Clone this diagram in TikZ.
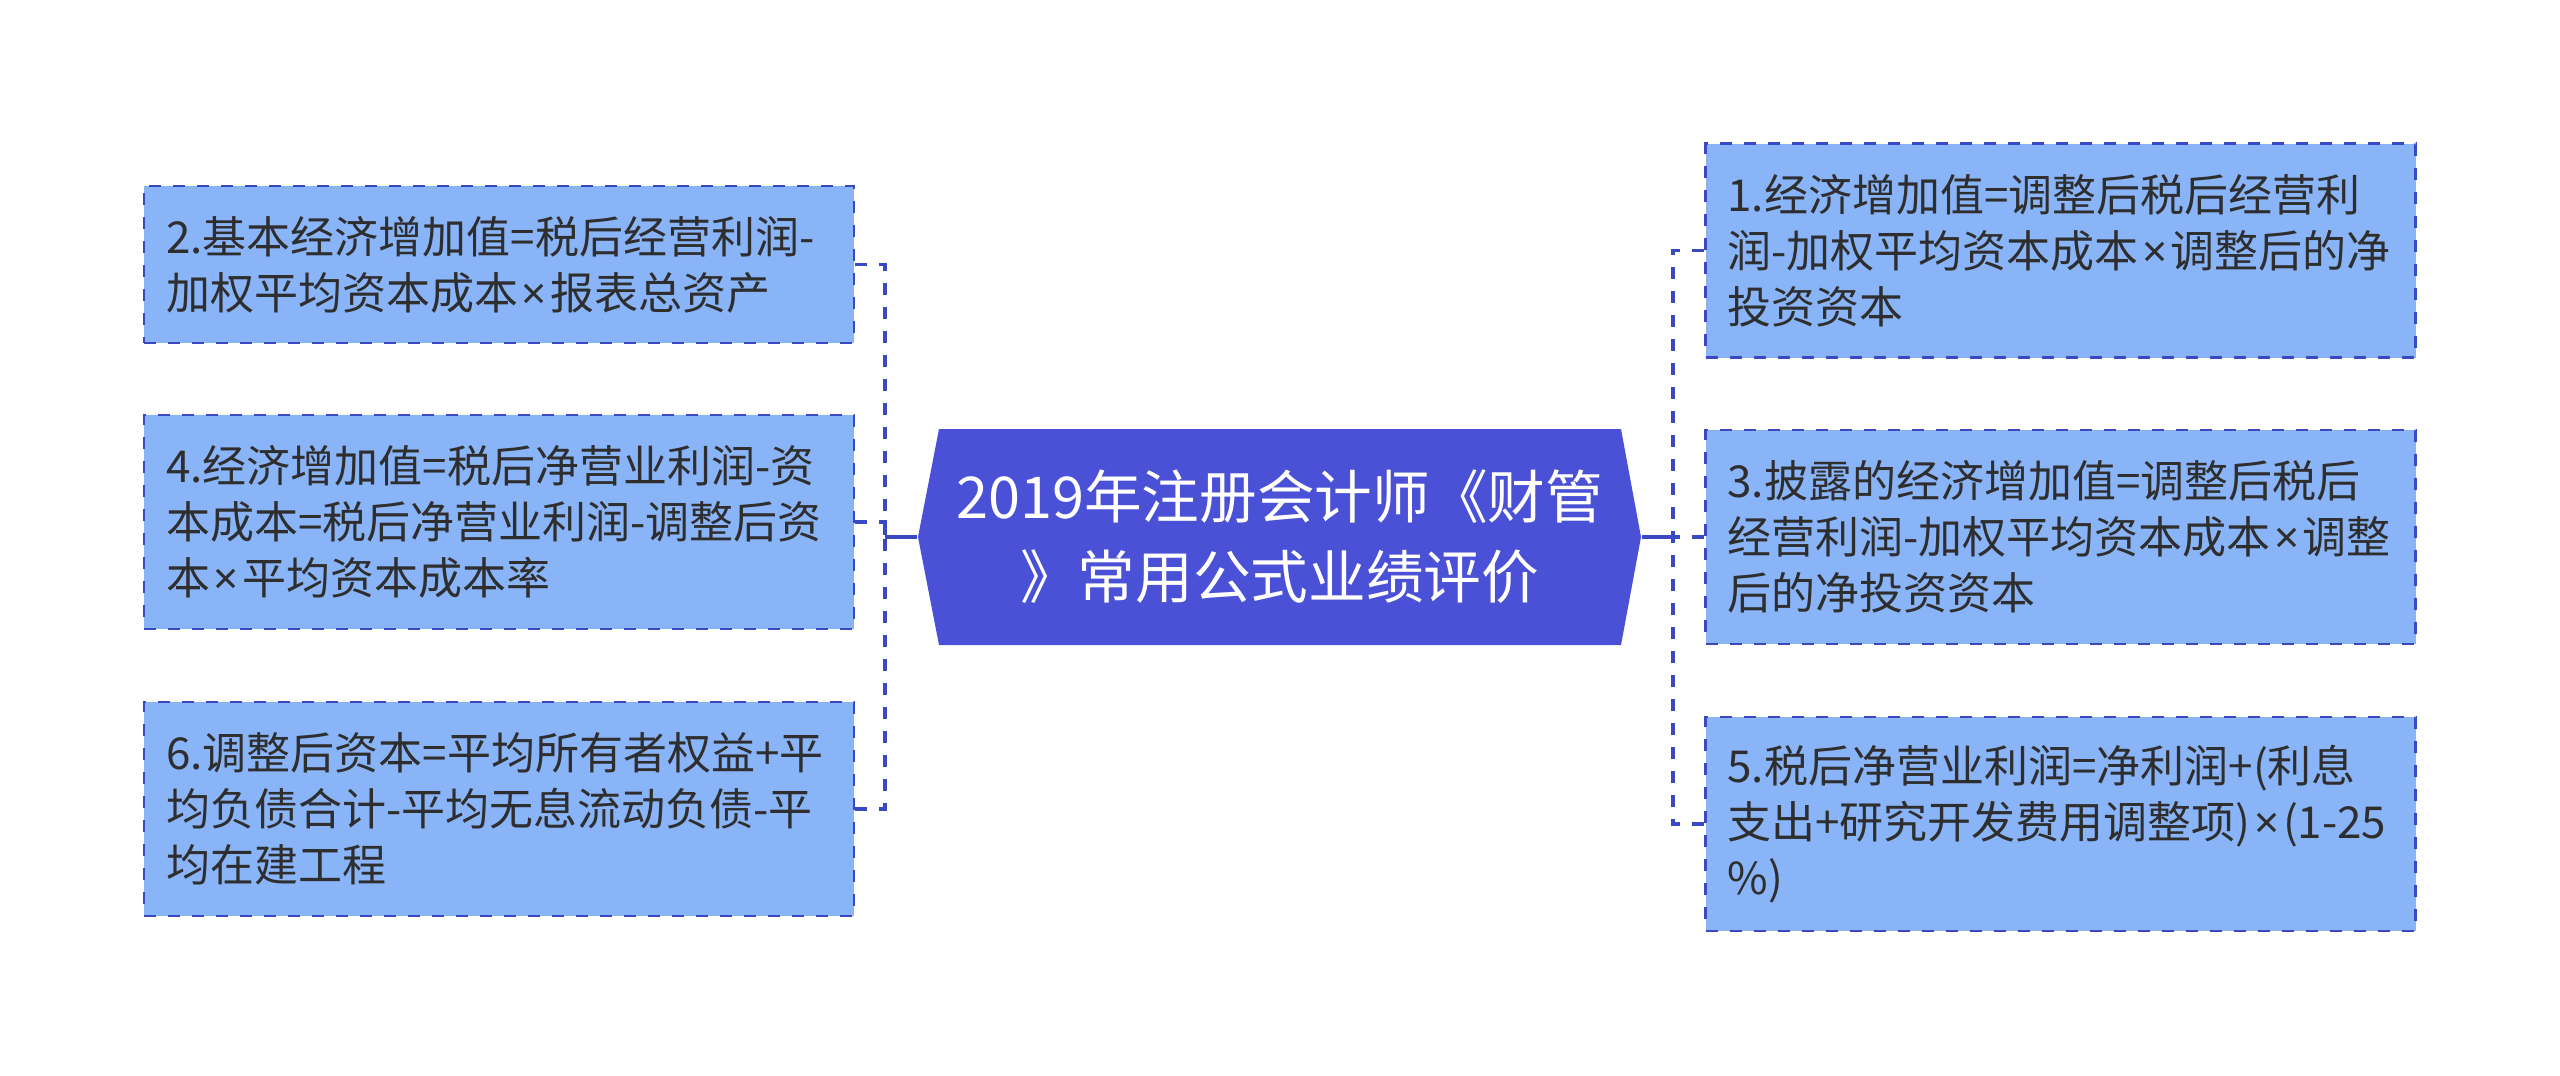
\documentclass[tikz,border=0pt]{standalone}
\usepackage{fontspec}
\setmainfont{Noto Sans CJK SC}
\newfontfamily\latinfont{Noto Sans}
\newcommand\tms{{\latinfont\kern0.08em×\kern0.08em}}
\exhyphenpenalty=10000 \hyphenpenalty=10000
\definecolor{hexblue}{HTML}{4A51D6}
\definecolor{boxblue}{HTML}{8AB4F8}
\definecolor{linkblue}{HTML}{3A48C4}
\definecolor{txtgray}{HTML}{2E2E2E}

\begin{document}
\begin{tikzpicture}[x=0.3pt,y=-0.3pt,
      leaf/.style={draw=linkblue,fill=boxblue,line width=0.7pt,dash pattern=on 3.6pt off 3.6pt,
        text=txtgray,text width=199.8pt,inner xsep=6.6pt,inner ysep=0pt,align=left,
        font=\fontsize{13.2}{16.8}\selectfont},
      link/.style={linkblue,line width=1.1pt,dash pattern=on 3.6pt off 3.6pt}]
  \useasboundingbox(0,0)rectangle(2560,1075);
  \fill[hexblue](918,537)--(939,429)--(1621,429)--(1641,537)--(1621,645)--(939,645)--cycle;
  \node[text=white,align=center,minimum width=216.9pt,minimum height=64.8pt,inner sep=0pt,
    font=\fontsize{17.3}{24}\selectfont](root)at(1279.5,537){2019年注册会计师《财管\\》常用公式业绩评价};
  \node[leaf,minimum height=47.1pt](b2)at(499,264.5){2.基本经济增加值=税后经营利润-\\加权平均资本成本\tms 报表总资产};
  \node[leaf,minimum height=64.2pt](b4)at(499,522){4.经济增加值=税后净营业利润-资\\本成本=税后净营业利润-调整后资\\本\tms 平均资本成本率};
  \node[leaf,minimum height=64.2pt](b6)at(499,809){6.调整后资本=平均所有者权益+平\\均负债合计-平均无息流动负债-平\\均在建工程};
  \node[leaf,minimum height=64.2pt](b1)at(2060.5,250.5){1.经济增加值=调整后税后经营利\\润-加权平均资本成本\tms 调整后的净\\投资资本};
  \node[leaf,minimum height=64.2pt](b3)at(2060.5,537){3.披露的经济增加值=调整后税后\\经营利润-加权平均资本成本\tms 调整\\后的净投资资本};
  \node[leaf,minimum height=64.2pt](b5)at(2060.5,824){5.税后净营业利润=净利润+(利息\\支出+研究开发费用调整项)\tms(1-25\\\%)};
  \coordinate(lsp)at(885,537);
  \coordinate(rsp)at(1673,537);
  \foreach \b in {b2,b4,b6} \draw[link](\b.east)-|(lsp);
  \foreach \b in {b1,b3,b5} \draw[link](\b.west)-|(rsp);
  \draw[linkblue,line width=1.1pt](root.west)--(lsp)(root.east)--(rsp);
\end{tikzpicture}
\end{document}
